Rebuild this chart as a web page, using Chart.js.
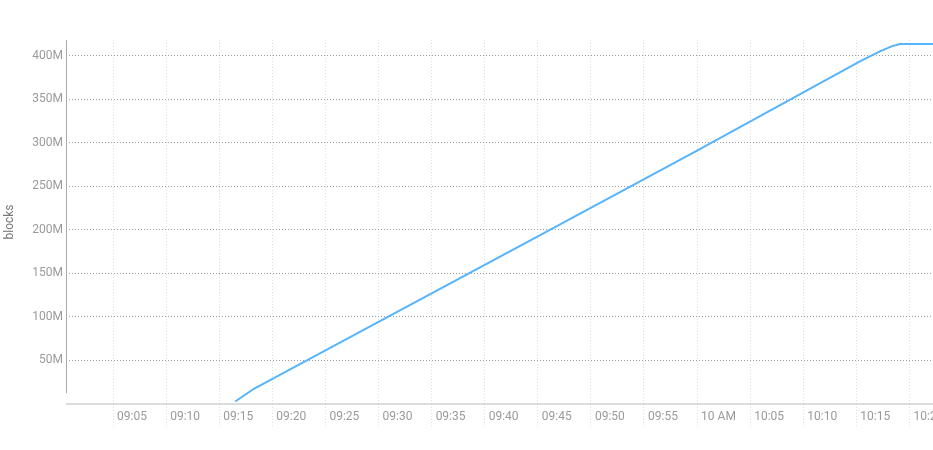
<!DOCTYPE html>
<html>
<head>
<meta charset="utf-8">
<script src="https://cdn.jsdelivr.net/npm/chart.js@4"></script>
<style>
  html, body { margin: 0; padding: 0; background: #fff; overflow: hidden; }
  #wrap { width: 933px; height: 450px; position: relative; }
</style>
</head>
<body>
<div id="wrap"><canvas id="blocksChart"></canvas></div>
<script>
// Sample times (clock time) and block counts in millions
const times = ['09:16:30', '09:18:10', '09:30:00', '09:45:00', '10:00:00',
               '10:15:20', '10:17:13', '10:18:19', '10:19:06', '10:22:15'];
const blocks = [2.9, 16.7, 94.2, 192.6, 290.9, 393.4, 404.9, 410.7, 413.4, 413.4];

// visible time window and value range
const xRange = ['09:00:34', '10:22:13'];
const yRange = [0, 418];

function toMinutes(t) {
    const p = t.split(':').map(Number);
    return p[0] * 60 + p[1] + (p[2] || 0) / 60;
}

function fmtTime(m) {
    const h = Math.floor(m / 60);
    const mm = Math.round(m % 60);
    if (mm === 0) {
        return (h % 12 || 12) + (h < 12 ? ' AM' : ' PM');
    }
    return String(h).padStart(2, '0') + ':' + String(mm).padStart(2, '0');
}

window.onload = function() {
    const ctx = document.getElementById('blocksChart').getContext('2d');

    const points = times.map(function(t, i) {
        return { x: toMinutes(t), y: blocks[i] };
    });

    // axis lines: solid x axis, short y axis line that stops above it
    const axisLines = {
        id: 'axisLines',
        afterDraw: function(chart) {
            const a = chart.chartArea;
            const c = chart.ctx;
            c.save();
            c.strokeStyle = '#d0d0d0';
            c.lineWidth = 1.5;
            c.beginPath();
            c.moveTo(a.left, a.bottom);
            c.lineTo(a.right, a.bottom);
            c.stroke();
            c.strokeStyle = '#a4a9b0';
            c.lineWidth = 1;
            c.beginPath();
            c.moveTo(a.left + 0.5, a.top);
            c.lineTo(a.left + 0.5, a.bottom - 11);
            c.stroke();
            c.restore();
        }
    };

    new Chart(ctx, {
        type: 'line',
        data: {
            datasets: [{
                label: 'blocks',
                data: points,
                borderColor: '#56b4fc',
                borderWidth: 2,
                pointRadius: 0,
                fill: false,
                tension: 0,
                borderJoinStyle: 'round'
            }]
        },
        options: {
            responsive: true,
            maintainAspectRatio: false,
            animation: false,
            layout: { padding: { top: 40, right: 0, bottom: 0, left: 0 } },
            plugins: {
                legend: { display: false },
                tooltip: { enabled: false }
            },
            scales: {
                x: {
                    type: 'linear',
                    min: toMinutes(xRange[0]),
                    max: toMinutes(xRange[1]),
                    afterFit: function(scale) {
                        scale.paddingRight = 0;
                        scale.paddingLeft = 0;
                        scale.height = 46;
                    },
                    border: { display: false, dash: [1, 2] },
                    grid: {
                        color: '#dedede',
                        lineWidth: 1,
                        drawTicks: true,
                        tickLength: 23,
                        tickColor: '#dedede',
                        tickBorderDash: [1, 2]
                    },
                    ticks: {
                        stepSize: 5,
                        includeBounds: false,
                        autoSkip: false,
                        maxRotation: 0,
                        align: 'start',
                        labelOffset: 4,
                        padding: -17,
                        color: '#9a9a9a',
                        font: { family: 'Roboto', size: 12 },
                        callback: function(v) { return fmtTime(v); }
                    }
                },
                y: {
                    min: yRange[0],
                    max: yRange[1],
                    afterFit: function(scale) { scale.width = 66; },
                    border: { display: false, dash: [1, 2] },
                    grid: {
                        color: function(c) { return c.tick && c.tick.value === 0 ? 'rgba(0,0,0,0)' : '#9c9c9c'; },
                        lineWidth: 1,
                        drawTicks: false
                    },
                    ticks: {
                        stepSize: 50,
                        includeBounds: false,
                        padding: 3,
                        color: '#9a9a9a',
                        font: { family: 'Roboto', size: 12 },
                        callback: function(v) { return v === 0 ? '' : v + 'M'; }
                    },
                    title: {
                        display: true,
                        text: 'blocks',
                        color: '#777',
                        font: { family: 'Roboto', size: 12 },
                        padding: { top: 3, bottom: 0 }
                    }
                }
            }
        },
        plugins: [axisLines]
    });
};
</script>
</body>
</html>
